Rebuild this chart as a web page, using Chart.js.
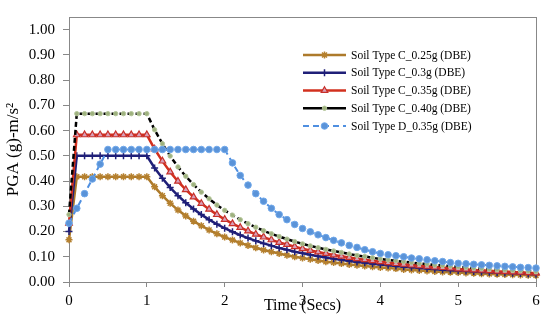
<!DOCTYPE html>
<html>
<head>
<meta charset="utf-8">
<script src="https://cdn.jsdelivr.net/npm/chart.js@4/dist/chart.umd.min.js"></script>
<style>
  html, body { margin: 0; padding: 0; background: #fff; }
  #wrap { width: 550px; height: 327px; }
</style>
</head>
<body>
<div id="wrap"><canvas id="pgaChart" width="550" height="327"></canvas></div>
<script>
// time axis (secs)
const times = [0,0.1,0.2,0.3,0.4,0.5,0.6,0.7,0.8,0.9,
  1.0,1.1,1.2,1.3,1.4,1.5,1.6,1.7,1.8,1.9,
  2.0,2.1,2.2,2.3,2.4,2.5,2.6,2.7,2.8,2.9,
  3.0,3.1,3.2,3.3,3.4,3.5,3.6,3.7,3.8,3.9,
  4.0,4.1,4.2,4.3,4.4,4.5,4.6,4.7,4.8,4.9,
  5.0,5.1,5.2,5.3,5.4,5.5,5.6,5.7,5.8,5.9,
  6.0];

const soilC025 = [0.167,0.417,0.417,0.417,0.417,0.417,0.417,0.417,0.417,0.417,
  0.417,0.377,0.342,0.312,0.285,0.262,0.241,0.223,0.206,0.191,
  0.178,0.166,0.155,0.145,0.136,0.127,0.120,0.113,0.106,0.100,
  0.095,0.090,0.085,0.080,0.077,0.073,0.069,0.066,0.063,0.060,
  0.057,0.055,0.053,0.050,0.048,0.046,0.044,0.042,0.040,0.039,
  0.038,0.036,0.035,0.033,0.032,0.031,0.030,0.029,0.028,0.027,
  0.026];

const soilC030 = [0.200,0.500,0.500,0.500,0.500,0.500,0.500,0.500,0.500,0.500,
  0.500,0.452,0.411,0.374,0.342,0.314,0.289,0.267,0.247,0.229,
  0.213,0.199,0.186,0.174,0.163,0.153,0.144,0.135,0.128,0.120,
  0.114,0.108,0.102,0.097,0.092,0.088,0.083,0.079,0.076,0.072,
  0.069,0.066,0.063,0.060,0.058,0.055,0.053,0.051,0.049,0.047,
  0.045,0.044,0.042,0.040,0.039,0.037,0.036,0.035,0.034,0.032,
  0.031];

const soilC035 = [0.233,0.583,0.583,0.583,0.583,0.583,0.583,0.583,0.583,0.583,
  0.583,0.527,0.479,0.436,0.399,0.366,0.337,0.311,0.288,0.267,
  0.248,0.231,0.216,0.202,0.189,0.178,0.167,0.157,0.149,0.140,
  0.132,0.125,0.119,0.113,0.107,0.102,0.097,0.092,0.088,0.084,
  0.080,0.076,0.073,0.070,0.067,0.064,0.062,0.059,0.057,0.055,
  0.052,0.051,0.048,0.047,0.045,0.043,0.042,0.040,0.039,0.037,
  0.036];

const soilC040 = [0.267,0.667,0.667,0.667,0.667,0.667,0.667,0.667,0.667,0.667,
  0.667,0.603,0.548,0.499,0.456,0.419,0.386,0.356,0.330,0.305,
  0.284,0.265,0.247,0.231,0.217,0.203,0.191,0.180,0.170,0.160,
  0.151,0.143,0.136,0.129,0.123,0.117,0.111,0.105,0.101,0.096,
  0.091,0.087,0.084,0.080,0.077,0.073,0.071,0.067,0.065,0.063,
  0.060,0.058,0.055,0.053,0.051,0.049,0.048,0.046,0.045,0.043,
  0.041];

const soilD035 = [0.233,0.292,0.350,0.408,0.467,0.525,0.525,0.525,0.525,0.525,
  0.525,0.525,0.525,0.525,0.525,0.525,0.525,0.525,0.525,0.525,
  0.525,0.472,0.422,0.384,0.350,0.320,0.292,0.267,0.247,0.228,
  0.212,0.199,0.187,0.176,0.165,0.155,0.145,0.137,0.128,0.120,
  0.113,0.108,0.104,0.100,0.095,0.092,0.088,0.084,0.081,0.077,
  0.074,0.072,0.070,0.068,0.066,0.064,0.062,0.060,0.058,0.057,
  0.055];

const seriesLabels = ['Soil Type C_0.25g (DBE)', 'Soil Type C_0.3g (DBE)', 'Soil Type C_0.35g (DBE)',
  'Soil Type C_0.40g (DBE)', 'Soil Type D_0.35g (DBE)'];
const yTicks = [0,0.1,0.2,0.3,0.4,0.5,0.6,0.7,0.8,0.9,1.0];
const xTicks = [0,1,2,3,4,5,6];

const FONT = '"Liberation Serif", "Times New Roman", serif';

function toPoints(arr){
    return arr.map((v, i) => ({x: times[i], y: v}));
}

// gray box round the plot area
const frame = {
    id: 'frame',
    beforeDatasetsDraw(chart){
        const {ctx, chartArea: a} = chart;
        ctx.save();
        ctx.strokeStyle = '#888';
        ctx.lineWidth = 1;
        ctx.strokeRect(Math.round(a.left) + 0.5, Math.round(a.top) + 0.5,
            Math.round(a.right - a.left), Math.round(a.bottom - a.top));
        ctx.restore();
    }
};

// legend sits inside the plot, top right
const innerLegend = {
    id: 'innerLegend',
    afterDraw(chart){
        const ctx = chart.ctx;
        chart.data.datasets.forEach((ds, i) => {
            const y = 55 + i * 17.75;
            ctx.save();
            ctx.strokeStyle = ds.borderColor;
            ctx.lineWidth = ds.borderWidth;
            ctx.setLineDash(ds.legendDash || []);
            ctx.beginPath();
            ctx.moveTo(303, y);
            ctx.lineTo(346, y);
            ctx.stroke();
            ctx.setLineDash([]);
            ctx.fillStyle = ds.pointBackgroundColor;
            ctx.strokeStyle = ds.pointBorderColor;
            ctx.lineWidth = ds.pointBorderWidth;
            Chart.helpers.drawPoint(ctx, {
                pointStyle: ds.pointStyle, radius: ds.pointRadius,
                rotation: 0, borderWidth: ds.pointBorderWidth
            }, 324.5, y);
            ctx.fillStyle = '#000';
            ctx.font = '11.5px ' + FONT;
            ctx.textBaseline = 'middle';
            ctx.fillText(ds.label, 351, y + 0.5);
            ctx.restore();
        });
    }
};

const datasets = [
    {
        label: seriesLabels[0], data: toPoints(soilC025), order: 5,
        borderColor: '#AD7A2B', borderWidth: 2.5,
        pointStyle: 'star', pointRadius: 3.5, pointBorderWidth: 1.5,
        pointBackgroundColor: '#AD7A2B', pointBorderColor: '#B5802E'
    },
    {
        label: seriesLabels[1], data: toPoints(soilC030), order: 4,
        borderColor: '#1F1F78', borderWidth: 2.5,
        pointStyle: 'cross', pointRadius: 3.5, pointBorderWidth: 1.5,
        pointBackgroundColor: '#1F1F78', pointBorderColor: '#1F1F78'
    },
    {
        label: seriesLabels[2], data: toPoints(soilC035), order: 3,
        borderColor: '#D2301E', borderWidth: 2.5,
        pointStyle: 'triangle', pointRadius: 3.8, pointBorderWidth: 1.2,
        pointBackgroundColor: '#D9A0B8', pointBorderColor: '#C8302A'
    },
    {
        label: seriesLabels[3], data: toPoints(soilC040), order: 2,
        borderColor: '#000', borderWidth: 2.5, borderDash: [5, 3],
        pointStyle: 'circle', pointRadius: 2.2, pointBorderWidth: 1,
        pointBackgroundColor: '#9EB17E', pointBorderColor: '#B4C69A'
    },
    {
        label: seriesLabels[4], data: toPoints(soilD035), order: 1,
        borderColor: '#4F8FE0', borderWidth: 2, borderDash: [6, 4], legendDash: [6, 4],
        pointStyle: 'circle', pointRadius: 3.3, pointBorderWidth: 1,
        pointBackgroundColor: '#5A93D8', pointBorderColor: '#70A8EA'
    }
];
datasets.forEach(d => { d.fill = false; d.tension = 0; d.clip = 8; });

new Chart(document.getElementById('pgaChart'), {
    type: 'line',
    data: { datasets: datasets },
    plugins: [frame, innerLegend],
    options: {
        responsive: false,
        animation: false,
        layout: { padding: { top: 9, right: 14, left: 0, bottom: 0 } },
        plugins: { legend: { display: false }, tooltip: { enabled: false } },
        scales: {
            x: {
                type: 'linear', min: 0, max: 6,
                afterBuildTicks: s => { s.ticks = xTicks.map(v => ({value: v})); },
                afterFit: s => { s.height = 45; },
                ticks: { color: '#000', font: { family: FONT, size: 15 }, padding: 5, maxRotation: 0,
                    callback: v => String(v) },
                grid: { drawOnChartArea: false, tickLength: 5, color: '#888' },
                border: { color: '#888' },
                title: { display: true, text: 'Time (Secs)', color: '#000',
                    font: { family: FONT, size: 16 }, padding: { top: 0, bottom: 12 } }
            },
            y: {
                min: 0, max: 1.05,
                afterBuildTicks: s => { s.ticks = yTicks.map(v => ({value: v})); },
                afterFit: s => { s.width = 69; },
                ticks: { color: '#000', font: { family: FONT, size: 15 }, padding: 8,
                    callback: v => v.toFixed(2) },
                grid: { drawOnChartArea: false, tickLength: 6, color: '#888' },
                border: { color: '#888' },
                title: { display: true, text: 'PGA (g)-m/s²', color: '#000',
                    font: { family: FONT, size: 17 }, padding: { top: 3, bottom: 0 } }
            }
        }
    }
});
</script>
</body>
</html>
